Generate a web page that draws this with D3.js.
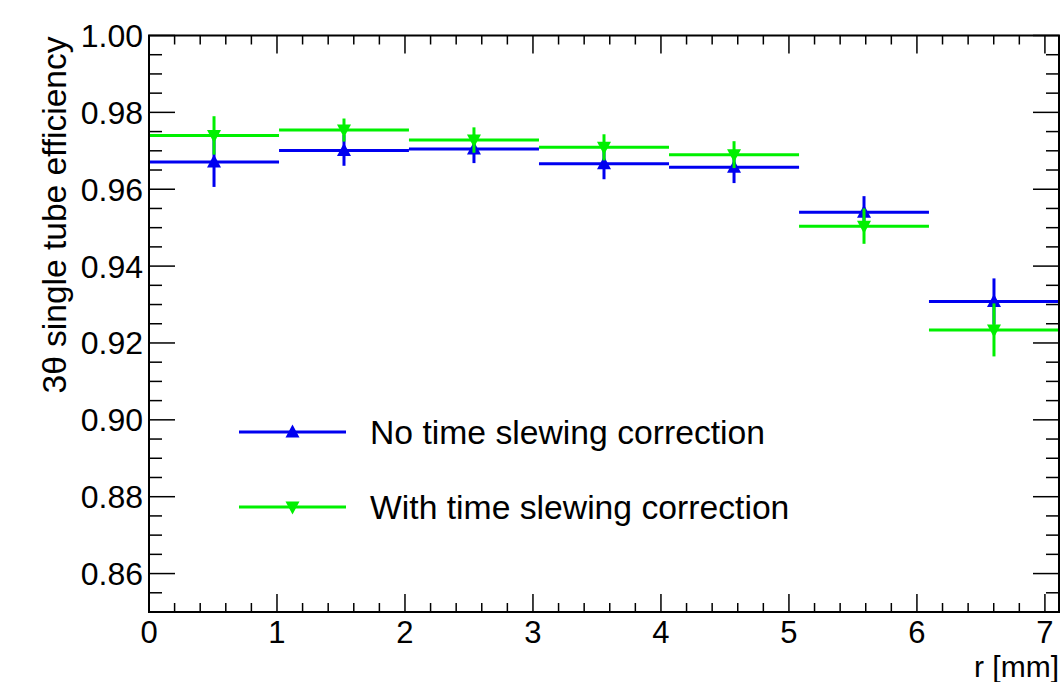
<!DOCTYPE html>
<html>
<head>
<meta charset="utf-8">
<script src="https://cdn.jsdelivr.net/npm/d3@7"></script>
<style>
  html, body { margin: 0; padding: 0; background: #fff; }
  svg { display: block; font-family: "Liberation Sans", Arial, Helvetica, sans-serif; }
</style>
</head>
<body>
<svg id="chart" width="1062" height="682"></svg>
<script>
// Radial bins (drift radius r in mm)
const binLow  = [0, 1.016, 2.031, 3.047, 4.063, 5.079, 6.094];
const binHigh = [1.016, 2.031, 3.047, 4.063, 5.079, 6.094, 7.11];

// Efficiency without time slewing correction
const effNoCorr = [0.9671, 0.9701, 0.9705, 0.9666, 0.9657, 0.9540, 0.9308];
const errNoCorr = [0.0065, 0.0040, 0.0037, 0.0040, 0.0041, 0.0042, 0.0060];

// Efficiency with time slewing correction
const effCorr = [0.9740, 0.9754, 0.9728, 0.9709, 0.9690, 0.9504, 0.9234];
const errCorr = [0.0050, 0.0030, 0.0033, 0.0034, 0.0035, 0.0046, 0.0069];

const seriesNames = ["No time slewing correction", "With time slewing correction"];
const xTickValues = [0, 1, 2, 3, 4, 5, 6, 7];
const yTickValues = [0.86, 0.88, 0.90, 0.92, 0.94, 0.96, 0.98, 1.00];

const frame = { left: 149, right: 1059, top: 35.5, bottom: 612 };

const x = d3.scaleLinear().domain([0, 7.11]).range([frame.left, frame.right]);
const y = d3.scaleLinear().domain([0.85, 1.00]).range([frame.bottom, frame.top]);

const svg = d3.select("#chart");

const blue = "#0000f0";
const green = "#00f000";

const triUp = "M0,-7.5 L7,5.5 L-7,5.5 Z";
const triDown = "M0,7.5 L7,-5.5 L-7,-5.5 Z";

// ---- data series -------------------------------------------------------
function drawSeries(vals, errs, color, up) {
  const g = svg.append("g");
  const pts = vals.map((v, i) => ({ v, e: errs[i], lo: binLow[i], hi: binHigh[i], c: (binLow[i] + binHigh[i]) / 2 }));
  g.selectAll("line.h").data(pts).join("line")
    .attr("x1", d => x(d.lo)).attr("x2", d => x(d.hi))
    .attr("y1", d => y(d.v)).attr("y2", d => y(d.v))
    .attr("stroke", color).attr("stroke-width", 3);
  g.selectAll("line.v").data(pts).join("line")
    .attr("x1", d => x(d.c)).attr("x2", d => x(d.c))
    .attr("y1", d => y(d.v - d.e)).attr("y2", d => y(d.v + d.e))
    .attr("stroke", color).attr("stroke-width", 3);
  g.selectAll("path.m").data(pts).join("path")
    .attr("d", up ? triUp : triDown)
    .attr("transform", d => `translate(${x(d.c)},${y(d.v)})`)
    .attr("fill", color);
}

drawSeries(effNoCorr, errNoCorr, blue, true);
drawSeries(effCorr, errCorr, green, false);

// ---- frame and ticks ---------------------------------------------------
const axes = svg.append("g").attr("stroke", "#000").attr("fill", "none");

axes.append("rect")
  .attr("x", frame.left).attr("y", frame.top)
  .attr("width", frame.right - frame.left).attr("height", frame.bottom - frame.top)
  .attr("stroke-width", 2);

const xMinor = d3.range(0, 7.11, 0.2).map(v => +v.toFixed(2));
const yMinor = d3.range(0.85, 1.0001, 0.005).map(v => +v.toFixed(3));

function isMajorX(v) { return Math.abs(v - Math.round(v)) < 1e-6; }
function isMajorY(v) { return Math.abs(v * 50 - Math.round(v * 50)) < 1e-6; }

// bottom and top ticks
xMinor.forEach(v => {
  const len = isMajorX(v) ? 18 : 9;
  const px = x(v);
  axes.append("line").attr("x1", px).attr("x2", px)
    .attr("y1", frame.bottom).attr("y2", frame.bottom - len).attr("stroke-width", 1.5);
  axes.append("line").attr("x1", px).attr("x2", px)
    .attr("y1", frame.top).attr("y2", frame.top + len).attr("stroke-width", 1.5);
});
// left and right ticks
yMinor.forEach(v => {
  const len = isMajorY(v) ? 26 : 13;
  const py = y(v);
  axes.append("line").attr("x1", frame.left).attr("x2", frame.left + len)
    .attr("y1", py).attr("y2", py).attr("stroke-width", 1.5);
  axes.append("line").attr("x1", frame.right).attr("x2", frame.right - len)
    .attr("y1", py).attr("y2", py).attr("stroke-width", 1.5);
});

// ---- tick labels -------------------------------------------------------
svg.append("g").selectAll("text").data(xTickValues).join("text")
  .attr("x", d => x(d)).attr("y", 643)
  .attr("text-anchor", "middle")
  .attr("font-size", 31)
  .text(d => d3.format("d")(d));

svg.append("g").selectAll("text").data(yTickValues).join("text")
  .attr("x", 143).attr("y", d => y(d) + 11.5)
  .attr("text-anchor", "end")
  .attr("font-size", 32)
  .text(d => d3.format(".2f")(d));

// ---- axis titles -------------------------------------------------------
svg.append("text")
  .attr("x", frame.right).attr("y", 677)
  .attr("text-anchor", "end")
  .attr("font-size", 30)
  .text("r [mm]");

svg.append("text")
  .attr("transform", `translate(66,${frame.top + 1}) rotate(-90)`)
  .attr("text-anchor", "end")
  .attr("font-size", 33.5)
  .text("3\u03b8 single tube efficiency");

// ---- legend ------------------------------------------------------------
const legendRows = [
  { name: seriesNames[0], color: blue, up: true, yPos: 432 },
  { name: seriesNames[1], color: green, up: false, yPos: 507 }
];
const lg = svg.append("g");
legendRows.forEach(r => {
  lg.append("line").attr("x1", 239).attr("x2", 346)
    .attr("y1", r.yPos).attr("y2", r.yPos)
    .attr("stroke", r.color).attr("stroke-width", 3);
  lg.append("path")
    .attr("d", r.up ? triUp : triDown)
    .attr("transform", `translate(292.5,${r.yPos})`)
    .attr("fill", r.color);
  lg.append("text").attr("x", 370).attr("y", r.yPos + 12)
    .attr("font-size", 33.7)
    .text(r.name);
});
</script>
</body>
</html>
